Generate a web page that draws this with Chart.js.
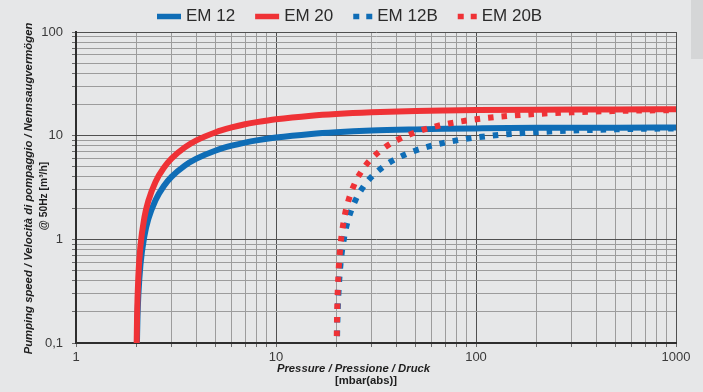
<!DOCTYPE html>
<html>
<head>
<meta charset="utf-8">
<script src="https://cdn.jsdelivr.net/npm/chart.js@4.4.1/dist/chart.umd.min.js"></script>
<style>
  html, body { margin: 0; padding: 0; background: #e6e7e8; }
  #wrap { position: relative; width: 703px; height: 392px; overflow: hidden; }
  #strip { position: absolute; left: 691px; top: 0; width: 12px; height: 59px; background: #d5d6d7; }
  canvas { display: block; }
</style>
</head>
<body>
<div id="wrap">
  <canvas id="chart" width="703" height="392"></canvas>
  <div id="strip"></div>
</div>
<script>
// Pumping speed curves (m³/h) against inlet pressure (mbar abs)
const seriesNames = ['EM 12', 'EM 20', 'EM 12B', 'EM 20B'];

const em12Pressure = [2.017, 2.03, 2.05, 2.1, 2.2, 2.3, 2.5, 2.75, 3, 3.5, 4, 5, 6, 7, 8, 10, 15, 20, 30, 50, 70, 100, 200, 500, 1000];
const em12Speed    = [0.1, 0.18, 0.29, 0.57, 1.09, 1.57, 2.4, 3.27, 4.0, 5.14, 6.0, 7.2, 8.0, 8.57, 9.0, 9.6, 10.4, 10.8, 11.2, 11.5, 11.65, 11.75, 11.9, 11.95, 12.0];

const em20Pressure = [2.011, 2.02, 2.05, 2.1, 2.2, 2.3, 2.5, 2.75, 3, 3.5, 4, 5, 6, 7, 8, 10, 15, 20, 30, 50, 70, 100, 200, 500, 1000];
const em20Speed    = [0.1, 0.18, 0.44, 0.86, 1.64, 2.35, 3.6, 4.9, 6.0, 7.7, 9.0, 10.8, 12.0, 12.9, 13.5, 14.4, 15.6, 16.2, 16.8, 17.3, 17.5, 17.65, 17.8, 17.9, 18.0];

const em12bPressure = [20.17, 20.3, 20.5, 21, 22, 23, 25, 27.5, 30, 35, 40, 50, 60, 70, 80, 100, 150, 200, 300, 500, 700, 1000];
const em12bSpeed    = [0.1, 0.18, 0.29, 0.57, 1.09, 1.57, 2.4, 3.27, 4.0, 5.14, 6.0, 7.2, 8.0, 8.57, 9.0, 9.6, 10.4, 10.8, 11.2, 11.5, 11.65, 11.75];

const em20bPressure = [20.11, 20.2, 20.5, 21, 22, 23, 25, 27.5, 30, 35, 40, 50, 60, 70, 80, 100, 150, 200, 300, 500, 700, 1000];
const em20bSpeed    = [0.1, 0.18, 0.44, 0.86, 1.64, 2.35, 3.6, 4.9, 6.0, 7.7, 9.0, 10.8, 12.0, 12.9, 13.5, 14.4, 15.6, 16.2, 16.8, 17.3, 17.5, 17.65];

// Axis decades and their labels
const xMajorTicks = [1, 10, 100, 1000];
const xTickLabels = ['1', '10', '100', '1000'];
const yMajorTicks = [0.1, 1, 10, 100];
const yTickLabels = ['0,1', '1', '10', '100'];
const minorSteps  = [2, 3, 4, 5, 6, 7, 8, 9];

const xTitle = ['Pressure / Pressione / Druck', '[mbar(abs)]'];
const yTitle = ['Pumping speed / Velocità di pompaggio / Nennsaugvermögen', '@ 50Hz [m³/h]'];

const BLUE = '#0f6db6';
const RED = '#ef3236';
const FONT = '"Liberation Sans", Arial, Helvetica, sans-serif';

// Full log grid: every decade plus its 2..9 subdivisions
function logGrid(majors, labels) {
  const values = [], text = [], major = [];
  majors.forEach((m, i) => {
    values.push(m); text.push(labels[i]); major.push(true);
    if (i < majors.length - 1) {
      minorSteps.forEach(k => { values.push(m * k); text.push(''); major.push(false); });
    }
  });
  return { values, text, major };
}
const xGrid = logGrid(xMajorTicks, xTickLabels);
const yGrid = logGrid(yMajorTicks, yTickLabels);

function points(px, py) { return px.map((p, i) => ({ x: p, y: py[i] })); }

// Legend and axis titles drawn on the canvas
const decorations = {
  id: 'decorations',
  afterDraw(chart) {
    const ctx = chart.ctx;
    ctx.save();
    // legend row
    ctx.font = '17px ' + FONT;
    ctx.textAlign = 'left';
    ctx.textBaseline = 'alphabetic';
    let x = 157;
    const lineY = 16.5;
    chart.data.datasets.forEach(ds => {
      const dotted = ds.borderDash && ds.borderDash.length > 0;
      const w = dotted ? 19 : 24;
      ctx.strokeStyle = ds.borderColor;
      ctx.lineWidth = 5.5;
      ctx.lineCap = 'butt';
      ctx.setLineDash(dotted ? [6, 7] : []);
      ctx.beginPath();
      ctx.moveTo(x, lineY);
      ctx.lineTo(x + w, lineY);
      ctx.stroke();
      ctx.setLineDash([]);
      x += w + 5;
      ctx.fillStyle = '#2b2b2b';
      ctx.fillText(ds.label, x, 20.5);
      x += ctx.measureText(ds.label).width + 20;
    });

    // x title
    ctx.fillStyle = '#1e1e1e';
    ctx.textAlign = 'center';
    ctx.font = 'italic bold 11.3px ' + FONT;
    ctx.fillText(xTitle[0], 353.5, 372);
    ctx.font = 'bold 11.3px ' + FONT;
    ctx.fillText(xTitle[1], 366, 383.5);

    // y title
    ctx.save();
    ctx.translate(31.5, 188.5);
    ctx.rotate(-Math.PI / 2);
    ctx.font = 'italic bold 11.3px ' + FONT;
    ctx.fillText(yTitle[0], 0, 0);
    ctx.restore();
    ctx.save();
    ctx.translate(47, 196);
    ctx.rotate(-Math.PI / 2);
    ctx.font = 'bold 10.3px ' + FONT;
    ctx.fillText(yTitle[1], 0, 0);
    ctx.restore();
    ctx.restore();
  }
};

const lineBase = {
  fill: false,
  pointRadius: 0,
  borderWidth: 6,
  borderCapStyle: 'butt',
  cubicInterpolationMode: 'monotone'
};

new Chart(document.getElementById('chart'), {
  type: 'line',
  data: {
    datasets: [
      Object.assign({}, lineBase, { label: seriesNames[0], data: points(em12Pressure, em12Speed), borderColor: BLUE, backgroundColor: BLUE, order: 4 }),
      Object.assign({}, lineBase, { label: seriesNames[1], data: points(em20Pressure, em20Speed), borderColor: RED, backgroundColor: RED, order: 2 }),
      Object.assign({}, lineBase, { label: seriesNames[2], data: points(em12bPressure, em12bSpeed), borderColor: BLUE, backgroundColor: BLUE, borderDash: [5.5, 8], borderDashOffset: 6.5, order: 3 }),
      Object.assign({}, lineBase, { label: seriesNames[3], data: points(em20bPressure, em20bSpeed), borderColor: RED, backgroundColor: RED, borderDash: [5.5, 8], borderDashOffset: 6.5, order: 1 })
    ]
  },
  options: {
    responsive: false,
    animation: false,
    devicePixelRatio: 1,
    layout: { padding: { left: 0, top: 32, right: 27, bottom: 0 } },
    plugins: { legend: { display: false }, tooltip: { enabled: false } },
    scales: {
      x: {
        type: 'logarithmic',
        position: 'bottom',
        min: 1,
        max: 1000,
        afterBuildTicks: s => { s.ticks = xGrid.values.map(v => ({ value: v })); },
        afterFit: s => { s.height = 49; },
        ticks: {
          autoSkip: false,
          maxRotation: 0,
          padding: 3,
          color: '#3a3a3a',
          font: { family: FONT, size: 13 },
          callback: (v, i) => xGrid.text[i]
        },
        grid: {
          color: c => xGrid.major[c.index] ? '#505050' : '#9c9c9c',
          lineWidth: 1,
          tickLength: 4,
          tickColor: '#6a6a6a'
        },
        border: { display: true, color: '#2e2e2e', width: 2 }
      },
      y: {
        type: 'logarithmic',
        position: 'left',
        min: 0.1,
        max: 100,
        afterBuildTicks: s => { s.ticks = yGrid.values.map(v => ({ value: v })); },
        afterFit: s => { s.width = 76; },
        ticks: {
          autoSkip: false,
          padding: 9,
          color: '#3a3a3a',
          font: { family: FONT, size: 13 },
          callback: (v, i) => yGrid.text[i]
        },
        grid: {
          color: c => yGrid.major[c.index] ? '#505050' : '#9c9c9c',
          lineWidth: 1,
          tickLength: 4,
          tickColor: '#6a6a6a'
        },
        border: { display: true, color: '#2e2e2e', width: 2 }
      }
    }
  },
  plugins: [decorations]
});
</script>
</body>
</html>
